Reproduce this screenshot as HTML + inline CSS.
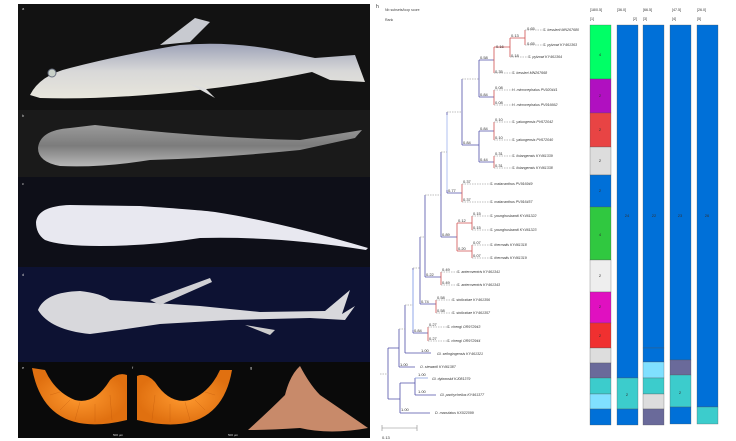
<!DOCTYPE html>
<html><head><meta charset="utf-8"><style>
html,body{margin:0;padding:0;background:#fff;}
svg{display:block;font-family:"Liberation Sans",sans-serif;}
</style></head><body>
<svg width="736" height="441" viewBox="0 0 736 441" xmlns="http://www.w3.org/2000/svg">
<defs>
<linearGradient id="fa" x1="0" y1="0" x2="0" y2="1"><stop offset="0" stop-color="#9ea3b8"/><stop offset="0.5" stop-color="#d8d8d8"/><stop offset="1" stop-color="#e8e6dc"/></linearGradient>
<linearGradient id="fb" x1="0" y1="0" x2="0" y2="1"><stop offset="0" stop-color="#9a9a9a"/><stop offset="0.5" stop-color="#7c7c7c"/><stop offset="1" stop-color="#b8b8b8"/></linearGradient>
<radialGradient id="gd"><stop offset="0" stop-color="#ff9a30"/><stop offset="1" stop-color="#e07010"/></radialGradient>
</defs>
<!-- panel a -->
<rect x="18" y="4" width="352" height="106" fill="#121212"/>
<path d="M30 95 Q40 75 70 68 Q120 55 180 45 Q240 40 300 55 L315 58 L355 55 L365 82 L330 80 L312 72 Q250 85 180 92 Q100 100 40 98 Z" fill="url(#fa)"/>
<path d="M160 45 L195 18 L210 22 L190 42 Z" fill="#c8cad0"/>
<path d="M190 84 L215 98 L205 88 Z" fill="#ddd"/>
<circle cx="52" cy="73" r="4" fill="#c8d0c8" stroke="#6a7080"/>
<text x="22" y="10" font-size="4" fill="#ccc">a</text>
<!-- panel b -->
<rect x="18" y="110" width="352" height="67" fill="#1a1a1a"/>
<path d="M38 148 Q40 130 70 128 L95 125 L140 130 Q220 138 300 140 L362 130 L355 138 L300 150 Q220 158 150 160 Q100 168 60 166 Q38 162 38 148 Z" fill="url(#fb)"/>
<text x="22" y="117" font-size="4" fill="#ccc">b</text>
<!-- panel c -->
<rect x="18" y="177" width="352" height="90" fill="#0e0f18"/>
<path d="M36 222 Q38 206 70 205 L140 206 Q200 210 215 212 Q280 222 368 248 L366 250 Q280 236 200 238 Q150 246 100 246 Q60 246 45 240 Q36 234 36 222 Z" fill="#e8e8f0"/>
<text x="22" y="185" font-size="4" fill="#ccc">c</text>
<!-- panel d -->
<rect x="18" y="267" width="352" height="95" fill="#0d1233"/>
<path d="M38 310 Q45 292 80 291 Q100 293 110 300 L200 306 L260 312 L325 311 L350 290 L342 314 L355 306 L345 320 L310 318 L230 320 L160 324 Q120 330 90 334 Q50 330 38 310 Z" fill="#d8d8dc"/>
<path d="M150 300 L210 278 L212 282 L160 305 Z" fill="#d0d0d4"/>
<path d="M245 325 L275 330 L270 335 Z" fill="#ccc"/>
<text x="22" y="276" font-size="4" fill="#ccc">d</text>
<!-- panels e f g -->
<rect x="18" y="362" width="352" height="76" fill="#0a0a0a"/>
<path d="M32 368 Q45 440 127 420 L127 375 Q118 372 110 380 Q95 405 75 400 Q55 392 45 370 Z" fill="url(#gd)"/>
<path d="M232 370 Q220 440 137 420 L137 376 Q146 372 155 382 Q170 405 190 400 Q210 392 220 370 Z" fill="url(#gd)"/>
<g stroke="#b85008" stroke-width="0.4" opacity="0.6">
<path d="M50 395 L60 392 M60 410 L70 400 M75 420 L80 402 M95 422 L95 404 M112 420 L110 395"/>
<path d="M215 395 L205 392 M205 410 L195 400 M190 420 L185 402 M170 422 L170 404 M152 420 L155 395"/>
</g>
<path d="M248 430 Q270 410 285 395 Q290 375 300 366 Q310 385 320 395 Q345 412 368 428 Q330 435 300 428 Q270 430 248 430 Z" fill="#c88a6a"/>
<text x="22" y="369" font-size="4" fill="#ccc">e</text>
<text x="132" y="369" font-size="4" fill="#ccc">f</text>
<text x="250" y="369" font-size="4" fill="#ccc">g</text>
<text x="113" y="436" font-size="3" fill="#ddd">500 µm</text>
<text x="228" y="436" font-size="3" fill="#ddd">500 µm</text>

<!-- tree header -->
<text x="376" y="8" font-size="5" fill="#333">h</text>
<text x="385" y="11" font-size="3.5" fill="#444">Nb subsets/loop score</text>
<text x="385" y="21" font-size="3.5" fill="#444">Rank</text>

<g stroke-width="0.8" fill="none">
<g stroke="#5050a8">
<path d="M479 60 V97 M479 60 H494 M479 97 H494"/>
<path d="M462 79 V145 M479 131 V162 M462 145 H479 M479 131 H494 M479 162 H494"/>
<path d="M447 112 V193 M447 193 H462"/>
<path d="M441 152 V237 M441 237 H457"/>
<path d="M425 195 V277 M425 277 H441"/>
<path d="M420 237 V304 M420 304 H436"/>
<path d="M413 268 V333 M413 333 H428"/>
<path d="M405 305 V353 M405 353 H431"/>
<path d="M399 329 V367 M399 367 H415"/>
<path d="M388 348 V399 M388 348 H399 M388 399 H400"/>
<path d="M400 383 V413 M400 383 H415 M400 413 H430"/>
<path d="M415 378 V395 M415 395 H436"/>
<path d="M415 378 H428" stroke="#8aa0e0"/>
</g>
<path d="M413 270 V330" stroke="#b0c0f0" stroke-width="1.4"/>
<path d="M447 115 V190" stroke="#b0c0f0" stroke-width="1"/>
<g stroke="#d05050">
<path d="M525 30 V45 M510 38 V57 M510 38 H525 M494 47 V73 M494 47 H510"/>
<path d="M494 90 V105 M494 122 V140 M494 156 V168"/>
<path d="M462 184 V202 M472 216 V230 M472 245 V258 M457 223 V251 M457 223 H472 M457 251 H472"/>
<path d="M441 272 V285 M436 300 V313 M428 327 V341"/>
</g>
<g stroke="#aaa" stroke-dasharray="1.5,1">
<path d="M462 79 H479 M447 112 H462 M441 152 H447 M425 195 H441 M420 237 H425 M413 268 H420 M405 305 H413 M399 329 H405 M380 374 H388"/>
<path d="M525 30 H543 M525 45 H543 M510 57 H528 M494 73 H512 M494 90 H512 M494 105 H512 M494 122 H512 M494 140 H512 M494 156 H512 M494 168 H512 M462 184 H490 M462 202 H490 M472 216 H490 M472 230 H490 M472 245 H490 M472 258 H490 M441 272 H457 M441 285 H457 M436 300 H452 M436 313 H452 M428 327 H447 M428 341 H447"/>
</g>
<path d="M382 428 H417 M382 425 V431 M417 425 V431" stroke="#888" stroke-width="0.6"/>
</g>
<g font-size="4" fill="#333">
<text x="527" y="30">0.65</text><text x="527" y="45">0.65</text><text x="511" y="37">0.13</text><text x="496" y="48">0.16</text><text x="511" y="57">0.18</text>
<text x="480" y="59">0.58</text><text x="495" y="73">0.35</text><text x="495" y="89">0.08</text><text x="495" y="104">0.08</text><text x="480" y="96">0.84</text>
<text x="480" y="130">0.84</text><text x="480" y="161">0.44</text><text x="495" y="121">0.10</text><text x="495" y="139">0.10</text><text x="495" y="155">0.31</text><text x="495" y="167">0.31</text><text x="463" y="144">0.84</text>
<text x="463" y="183">0.37</text><text x="463" y="201">0.37</text><text x="448" y="192">0.77</text>
<text x="473" y="215">0.15</text><text x="473" y="229">0.15</text><text x="473" y="244">0.07</text><text x="473" y="257">0.07</text><text x="458" y="222">0.12</text><text x="458" y="250">0.20</text><text x="442" y="236">0.89</text>
<text x="442" y="271">0.49</text><text x="442" y="284">0.49</text><text x="426" y="276">0.22</text>
<text x="437" y="299">0.58</text><text x="437" y="312">0.58</text><text x="421" y="303">0.74</text>
<text x="429" y="326">0.27</text><text x="429" y="340">0.27</text><text x="414" y="332">0.84</text>
<text x="421" y="352">1.00</text><text x="400" y="366">1.00</text><text x="418" y="376">1.00</text><text x="418" y="393">1.00</text><text x="401" y="411">1.00</text>
<text x="382" y="439">0.13</text>
</g>
<g font-size="3.6" fill="#333" font-style="italic">
<text x="543" y="31">S. kesslerii MN267680</text><text x="543" y="46">S. pylzowi KY461363</text><text x="528" y="58">S. pylzowi KY461364</text><text x="512" y="74">S. kessleri MN267668</text>
<text x="512" y="91">H. microcephalus PV920441</text><text x="512" y="106">H. microcephalus PV916662</text>
<text x="512" y="123">S. yaluogensis PV672042</text><text x="512" y="141">S. yaluogensis PV672040</text><text x="512" y="157">S. lixiangensis KY461339</text><text x="512" y="169">S. lixiangensis KY461338</text>
<text x="490" y="185">S. malacanthus PV916949</text><text x="490" y="203">S. malacanthus PV916457</text>
<text x="490" y="217">S. younghusbandi KY461322</text><text x="490" y="231">S. younghusbandi KY461323</text><text x="490" y="246">S. thermalis KY461318</text><text x="490" y="259">S. thermalis KY461319</text>
<text x="457" y="273">S. anteroventris KY461341</text><text x="457" y="286">S. anteroventris KY461343</text>
<text x="452" y="301">S. stoliczkae KY461356</text><text x="452" y="314">S. stoliczkae KY461357</text>
<text x="447" y="328">S. chengi OR972943</text><text x="447" y="342">S. chengi OR972944</text>
<text x="437" y="355">Gl. selingingensis KY461321</text><text x="420" y="368">O. stewartii KY461387</text>
<text x="432" y="380">Gl. dybowskii KJ081379</text><text x="440" y="396">Gl. pachycheilus KY461377</text><text x="435" y="414">D. maculatus KX022099</text>
</g>

<g font-size="3.6" fill="#333">
<text x="590" y="11">[18/0.5]</text><text x="590" y="20">[1]</text>
<text x="617" y="11">[36.0]</text><text x="633" y="20">[2]</text>
<text x="643" y="11">[66.5]</text><text x="643" y="20">[3]</text>
<text x="672" y="11">[47.5]</text><text x="672" y="20">[4]</text>
<text x="697" y="11">[26.0]</text><text x="697" y="20">[5]</text>
</g>
<g stroke="#555" stroke-width="0.3">
<rect x="590" y="25" width="21" height="54" fill="#00ff66"/>
<rect x="590" y="79" width="21" height="34" fill="#b010c0"/>
<rect x="590" y="113" width="21" height="34" fill="#e84444"/>
<rect x="590" y="147" width="21" height="28" fill="#dddddd"/>
<rect x="590" y="175" width="21" height="32" fill="#0070d8"/>
<rect x="590" y="207" width="21" height="53" fill="#30c840"/>
<rect x="590" y="260" width="21" height="32" fill="#eeeeee"/>
<rect x="590" y="292" width="21" height="31" fill="#e010c0"/>
<rect x="590" y="323" width="21" height="25" fill="#f03030"/>
<rect x="590" y="348" width="21" height="15" fill="#dddddd"/>
<rect x="590" y="363" width="21" height="15" fill="#6a6a9a"/>
<rect x="590" y="378" width="21" height="16" fill="#3ccccc"/>
<rect x="590" y="394" width="21" height="15" fill="#80e0ff"/>
<rect x="590" y="409" width="21" height="16" fill="#0070d8"/>

<rect x="617" y="25" width="21" height="353" fill="#0070d8"/>
<rect x="617" y="378" width="21" height="31" fill="#3ccccc"/>
<rect x="617" y="409" width="21" height="16" fill="#0070d8"/>

<rect x="643" y="25" width="21" height="323" fill="#0070d8"/>
<rect x="643" y="348" width="21" height="14" fill="#0070d8"/>
<rect x="643" y="362" width="21" height="16" fill="#80e0ff"/>
<rect x="643" y="378" width="21" height="16" fill="#3ccccc"/>
<rect x="643" y="394" width="21" height="15" fill="#dddddd"/>
<rect x="643" y="409" width="21" height="16" fill="#6a6a9a"/>

<rect x="670" y="25" width="21" height="335" fill="#0070d8"/>
<rect x="670" y="360" width="21" height="15" fill="#6a6a9a"/>
<rect x="670" y="375" width="21" height="32" fill="#3ccccc"/>
<rect x="670" y="407" width="21" height="17" fill="#0070d8"/>

<rect x="697" y="25" width="21" height="382" fill="#0070d8"/>
<rect x="697" y="407" width="21" height="17" fill="#3ccccc"/>
</g>
<g font-size="4" fill="#333" text-anchor="middle">
<text x="600" y="56">4</text><text x="600" y="97">2</text><text x="600" y="131">2</text><text x="600" y="162">2</text><text x="600" y="192">2</text>
<text x="600" y="236">4</text><text x="600" y="277">2</text><text x="600" y="308">2</text><text x="600" y="337">2</text>
<text x="627" y="217">24</text><text x="627" y="396">2</text>
<text x="654" y="217">22</text><text x="680" y="217">23</text><text x="680" y="394">2</text><text x="707" y="217">26</text>
</g>
</svg>
</body></html>
